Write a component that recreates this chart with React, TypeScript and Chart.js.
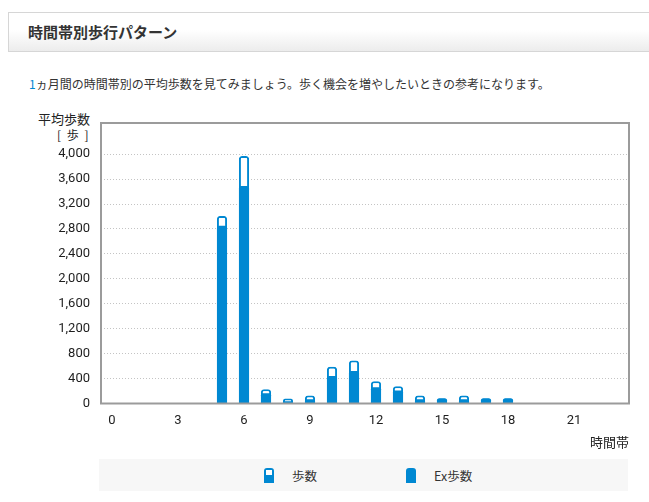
import React, { useEffect, useRef } from 'react';
import { Chart, registerables } from 'chart.js';

Chart.register(...registerables);

// 時間帯 (0〜23時)
const hours = ['0', '1', '2', '3', '4', '5', '6', '7', '8', '9', '10', '11', '12', '13', '14', '15', '16', '17', '18', '19', '20', '21', '22', '23'];
// 平均歩数 (合計)
const steps = [0, 0, 0, 0, 0, 3010, 3970, 230, 80, 130, 590, 690, 355, 275, 130, 85, 130, 85, 85, 0, 0, 0, 0, 0];
// うち Ex歩数
const exSteps = [0, 0, 0, 0, 0, 2850, 3490, 165, 35, 70, 440, 520, 260, 210, 70, 80, 70, 80, 80, 0, 0, 0, 0, 0];
// y軸の目盛り
const yTickValues = [0, 400, 800, 1200, 1600, 2000, 2400, 2800, 3200, 3600, 4000];
const yMax = 4500;

const BLUE = '#0088d2';
const JP = '"Noto Sans CJK JP", "Noto Sans", sans-serif';

// プロット領域の枠線
const framePlugin = {
  id: 'frame',
  afterDatasetsDraw(chart: Chart) {
    const { ctx, chartArea: a } = chart;
    ctx.save();
    ctx.strokeStyle = '#9b9b9b';
    ctx.lineWidth = 2;
    ctx.strokeRect(a.left, a.top, a.right - a.left, a.bottom - a.top);
    ctx.restore();
  },
};

const StepChart = () => {
  const canvasRef = useRef<HTMLCanvasElement>(null);
  const chartRef = useRef<Chart | null>(null);

  useEffect(() => {
    if (!canvasRef.current) return;
    chartRef.current = new Chart(canvasRef.current, {
      type: 'bar',
      data: {
        labels: hours,
        datasets: [
          {
            label: 'Ex歩数',
            data: exSteps,
            backgroundColor: BLUE,
            borderWidth: 0,
            borderRadius: { topLeft: 2, topRight: 2, bottomLeft: 0, bottomRight: 0 },
            grouped: false,
            order: 0,
            barPercentage: 0.46,
            categoryPercentage: 1,
          },
          {
            label: '歩数',
            data: steps,
            backgroundColor: '#ffffff',
            borderColor: BLUE,
            borderWidth: 2,
            borderSkipped: 'start',
            borderRadius: { topLeft: 3, topRight: 3, bottomLeft: 0, bottomRight: 0 },
            grouped: false,
            order: 1,
            barPercentage: 0.46,
            categoryPercentage: 1,
          },
        ],
      },
      options: {
        responsive: true,
        maintainAspectRatio: false,
        animation: false,
        layout: { padding: { top: 23, right: 20, left: 0, bottom: 0 } },
        plugins: {
          legend: { display: false },
          tooltip: { enabled: false },
        },
        scales: {
          x: {
            grid: { display: false, drawTicks: false },
            border: { display: false },
            ticks: {
              autoSkip: false,
              maxRotation: 0,
              padding: 9,
              color: '#1e1e1e',
              font: { family: 'Roboto', size: 13 },
              callback: (_v: any, i: number) => (i % 3 === 0 ? hours[i] : ''),
            },
            afterFit: (scale: any) => {
              scale.height = 51.5;
            },
          },
          y: {
            min: 0,
            max: yMax,
            grid: { color: '#c4c4c4', lineWidth: 1, drawTicks: false },
            border: { display: false, dash: [1, 2] },
            ticks: {
              padding: 11,
              color: '#1e1e1e',
              font: { family: 'Roboto', size: 13 },
              callback: (v: any) => Number(v).toLocaleString('en-US'),
            },
            afterBuildTicks: (scale: any) => {
              scale.ticks = yTickValues.map((v) => ({ value: v }));
            },
            afterFit: (scale: any) => {
              scale.width = 101;
            },
          },
        },
      },
      plugins: [framePlugin],
    });

    return () => {
      if (chartRef.current) {
        chartRef.current.destroy();
        chartRef.current = null;
      }
    };
  }, []);

  return (
    <div style={{ position: 'absolute', left: 0, top: 100, width: 649, height: 355 }}>
      <canvas ref={canvasRef}></canvas>
    </div>
  );
};

const LegendIcon = ({ hollow }: { hollow: boolean }) => (
  <div style={{ position: 'relative', width: 10, height: 15, background: BLUE, borderRadius: '3px 3px 0 0' }}>
    {hollow && <div style={{ position: 'absolute', left: 2, top: 2, width: 6, height: 5, background: '#fff' }}></div>}
  </div>
);

export default function App() {
  return (
    <div style={{ position: 'absolute', left: 0, top: 0, width: 649, height: 502, background: '#fff', overflow: 'hidden', fontFamily: JP }}>
      {/* 見出し */}
      <div
        style={{
          position: 'absolute', left: 8, top: 12, width: 660, height: 38,
          border: '1px solid #d6d6d6',
          background: 'linear-gradient(#ffffff 45%, #ececec)',
        }}
      >
        <div style={{ position: 'absolute', left: 19, top: 0, lineHeight: '38px', fontSize: 15, fontWeight: 'bold', color: '#333' }}>
          時間帯別歩行パターン
        </div>
      </div>

      <div style={{ position: 'absolute', left: 29, top: 76, lineHeight: '16px', fontSize: 12, color: '#333', whiteSpace: 'nowrap' }}>
        <span style={{ color: BLUE }}>1</span>ヵ月間の時間帯別の平均歩数を見てみましょう。歩く機会を増やしたいときの参考になります。
      </div>

      {/* y軸タイトル */}
      <div style={{ position: 'absolute', right: 649 - 90, top: 111, lineHeight: '16px', fontSize: 13, color: '#222', textAlign: 'right', whiteSpace: 'nowrap' }}>
        平均歩数
      </div>
      <div style={{ position: 'absolute', right: 649 - 90, top: 127, lineHeight: '16px', fontSize: 12, letterSpacing: 1.5, color: '#222', textAlign: 'right', whiteSpace: 'pre' }}>
        {'[ 歩 ]'}
      </div>

      <StepChart />

      {/* x軸タイトル */}
      <div style={{ position: 'absolute', right: 649 - 629, top: 434, lineHeight: '16px', fontSize: 13, color: '#222', whiteSpace: 'nowrap' }}>
        時間帯
      </div>

      {/* 凡例 */}
      <div style={{ position: 'absolute', left: 99, top: 459, width: 529, height: 32, background: '#f7f7f7' }}>
        <div style={{ position: 'absolute', left: 165, top: 9 }}><LegendIcon hollow={true} /></div>
        <div style={{ position: 'absolute', left: 193, top: 9, lineHeight: '16px', fontSize: 12.5, color: '#333' }}>歩数</div>
        <div style={{ position: 'absolute', left: 307, top: 9 }}><LegendIcon hollow={false} /></div>
        <div style={{ position: 'absolute', left: 335, top: 9, lineHeight: '16px', fontSize: 12.5, color: '#333', whiteSpace: 'nowrap' }}>Ex歩数</div>
      </div>
    </div>
  );
}
